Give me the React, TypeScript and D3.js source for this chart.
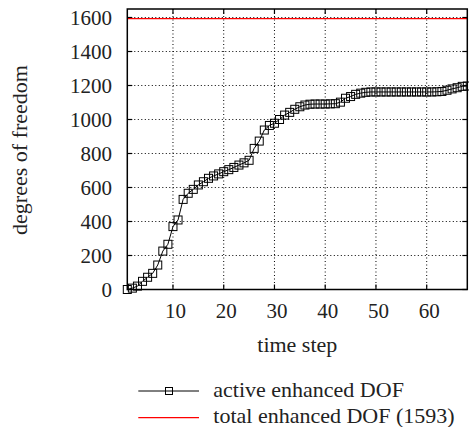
import React from "react";
import * as d3 from "d3";

// active enhanced DOF per time step
const steps = d3.range(1, 69);
const activeDof = [
  0, 8, 20, 48, 72, 95, 144, 226, 266, 370,
  409, 530, 566, 589, 615, 634, 654, 668, 680, 693,
  705, 718, 732, 745, 760, 830, 873, 938, 965, 978,
  1000, 1026, 1042, 1060, 1075, 1085, 1090, 1091, 1091, 1091,
  1092, 1093, 1102, 1125, 1135, 1148, 1155, 1160, 1162, 1162,
  1162, 1162, 1162, 1162, 1162, 1162, 1162, 1162, 1162, 1162,
  1162, 1163, 1165, 1172, 1180, 1187, 1195, 1197,
];
const totalDof = 1593;
const xTicks = [10, 20, 30, 40, 50, 60];
const yTicks = [0, 200, 400, 600, 800, 1000, 1200, 1400, 1600];

const W = 469;
const H = 427;
const left = 127.3;
const right = 467.3;
const top = 9;
const bottom = 289.5;
const font = '"Liberation Serif", "Times New Roman", Times, "DejaVu Serif", serif';

export default function App() {
  const x = d3.scaleLinear().domain([1, 68]).range([left, right]);
  const y = d3.scaleLinear().domain([0, 1650]).range([bottom, top]);

  const pts: [number, number][] = steps.map((s, i) => [s, activeDof[i]]);
  const line = d3
    .line<[number, number]>()
    .x((d) => x(d[0]))
    .y((d) => y(d[1]));

  const tk = 5; // inward tick length
  const ms = 8; // marker size
  const txt = { fontFamily: font, fill: "#222" };

  return (
    <svg
      width={W}
      height={H}
      style={{ position: "absolute", left: 0, top: 0, background: "#fff" }}
    >
      {/* grid */}
      <g stroke="#000" strokeWidth={1} strokeDasharray="1,2.5">
        {xTicks.map((t) => (
          <line key={"gx" + t} x1={x(t)} x2={x(t)} y1={top} y2={bottom} />
        ))}
        {yTicks
          .filter((t) => t > 0)
          .map((t) => (
            <line key={"gy" + t} x1={left} x2={right} y1={y(t)} y2={y(t)} />
          ))}
      </g>

      {/* ticks on all four sides */}
      <g stroke="#000" strokeWidth={1.2}>
        {xTicks.map((t) => (
          <g key={"tx" + t}>
            <line x1={x(t)} x2={x(t)} y1={bottom} y2={bottom - tk} />
            <line x1={x(t)} x2={x(t)} y1={top} y2={top + tk} />
          </g>
        ))}
        {yTicks.map((t) => (
          <g key={"ty" + t}>
            <line x1={left} x2={left + tk} y1={y(t)} y2={y(t)} />
            <line x1={right} x2={right - tk} y1={y(t)} y2={y(t)} />
          </g>
        ))}
      </g>

      {/* total enhanced DOF */}
      <line
        x1={left}
        x2={right}
        y1={y(totalDof)}
        y2={y(totalDof)}
        stroke="#ff0000"
        strokeWidth={1.3}
      />

      {/* active enhanced DOF */}
      <path d={line(pts) || ""} fill="none" stroke="#000" strokeWidth={1} />
      <g fill="none" stroke="#000" strokeWidth={1}>
        {pts.map((d, i) => (
          <rect
            key={i}
            x={x(d[0]) - ms / 2}
            y={y(d[1]) - ms / 2}
            width={ms}
            height={ms}
          />
        ))}
      </g>

      {/* frame */}
      <rect
        x={left}
        y={top}
        width={right - left}
        height={bottom - top}
        fill="none"
        stroke="#000"
        strokeWidth={1.5}
      />

      {/* tick labels */}
      <g fontSize={21}>
        {xTicks.map((t) => (
          <text key={"lx" + t} x={x(t) + 2.5} y={318.3} textAnchor="middle" style={txt}>
            {t}
          </text>
        ))}
        {yTicks.map((t) => (
          <text key={"ly" + t} x={112} y={y(t) + 7} textAnchor="end" style={txt}>
            {t}
          </text>
        ))}
      </g>

      {/* axis titles */}
      <text x={(left + right) / 2} y={351.7} textAnchor="middle" fontSize={22} style={txt}>
        time step
      </text>
      <text
        transform={`translate(27,150) rotate(-90)`}
        textAnchor="middle"
        fontSize={22}
        style={txt}
      >
        degrees of freedom
      </text>

      {/* legend */}
      <g>
        <line x1={138.3} x2={199} y1={391} y2={391} stroke="#000" strokeWidth={1} />
        <rect x={169 - 3.5} y={391 - 3.5} width={7} height={7} fill="none" stroke="#000" strokeWidth={1} />
        <text x={213.3} y={396.7} fontSize={22} style={txt}>
          active enhanced DOF
        </text>
        <line x1={138.3} x2={199} y1={417.7} y2={417.7} stroke="#ff0000" strokeWidth={1.3} />
        <text x={213.3} y={422.7} fontSize={22} style={txt}>
          total enhanced DOF (1593)
        </text>
      </g>
    </svg>
  );
}
